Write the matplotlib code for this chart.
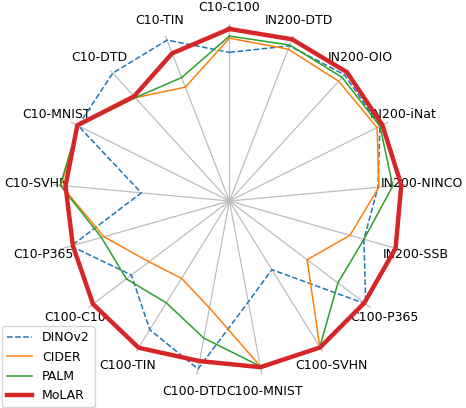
import matplotlib
matplotlib.use("Agg")
import matplotlib.pyplot as plt
import numpy as np

plt.rcParams["font.size"] = 9

pairs = ["C10-C100", "IN200-DTD", "IN200-OIO", "IN200-iNat", "IN200-NINCO",
         "IN200-SSB", "C100-P365", "C100-SVHN", "C100-MNIST", "C100-DTD",
         "C100-TIN", "C100-C10", "C10-P365", "C10-SVHN", "C10-MNIST",
         "C10-DTD", "C10-TIN"]

dinov2 = [0.84, 0.94, 0.965, 0.95, 0.843, 0.79, 0.965, 0.456, 0.58, 0.965,
          0.855, 0.694, 0.93, 0.50, 0.955, 0.978, 0.975]
cider = [0.92, 0.92, 0.916, 0.932, 0.848, 0.708, 0.55, 0.97, 0.95, 0.614,
         0.514, 0.57, 0.737, 0.955, 0.955, 0.79, 0.69]
palm = [0.932, 0.945, 0.945, 0.95, 0.927, 0.79, 0.768, 0.97, 0.95, 0.788,
        0.677, 0.73, 0.752, 0.96, 0.955, 0.79, 0.748]
molar = [0.972, 0.98, 0.985, 0.965, 0.975, 0.976, 0.955, 0.973, 0.955, 0.92,
         0.975, 0.966, 0.92, 0.93, 0.96, 0.80, 0.895]

angles = np.linspace(0, 2 * np.pi, len(pairs), endpoint=False)
closed = np.append(angles, angles[0])


def close(v):
    return v + v[:1]


fig = plt.figure(figsize=(4.66, 4.08), dpi=100)
ax = fig.add_axes([0.1125, 0.0735, 0.7597, 0.8676], projection="polar")
ax.set_theta_offset(np.pi / 2)
ax.set_theta_direction(-1)

ax.plot(closed, close(dinov2), color="#1f77b4", linestyle="--", linewidth=1.1, label="DINOv2")
ax.plot(closed, close(cider), color="#ff7f0e", linewidth=1.1, label="CIDER")
ax.plot(closed, close(palm), color="#2ca02c", linewidth=1.1, label="PALM")
ax.plot(closed, close(molar), color="#d62728", linewidth=3.2, label="MoLAR")

ax.set_xticks(angles)
ax.set_xticklabels(pairs)
ax.tick_params(axis="x", pad=1.5)
ax.set_yticks([])
ax.set_ylim(0, 1)
ax.spines["polar"].set_visible(False)
ax.grid(True, color="#bdbdbd", linewidth=0.9)

fig.legend(loc="lower left", bbox_to_anchor=(0.004, 0.002), borderaxespad=0)

fig.savefig("out.png", dpi=100)
